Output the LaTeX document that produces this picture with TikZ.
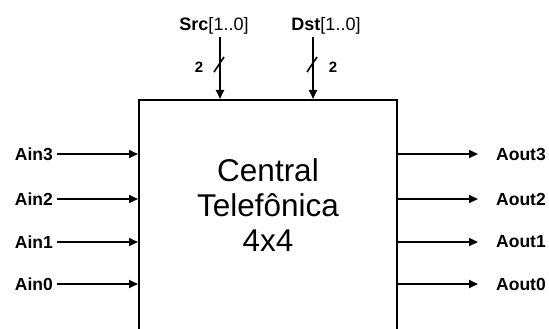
\documentclass[tikz,border=0pt]{standalone}
\usepackage{fontspec}
\setmainfont{Liberation Sans}
\usetikzlibrary{arrows.meta}

\begin{document}
\begin{tikzpicture}[x=1pt, y=-1pt,
  >={Triangle[length=9pt, width=8pt]},
  sig/.style={->, line width=2.2pt},
  lbl/.style={font=\fontsize{17.5}{20}\selectfont\bfseries, inner sep=0pt},
  bus/.style={font=\fontsize{18}{20}\selectfont\bfseries, inner sep=0pt}]
  \useasboundingbox (0,0) rectangle (549,329);
  \clip (0,0) rectangle (549,329);
  % ---------- central box ----------
  \node[draw, line width=2.2pt, anchor=north west, inner sep=0pt,
    minimum width=258pt, minimum height=280pt] (central) at (138,99) {};
  \node[font=\fontsize{31.5}{35}\selectfont, align=center] (title)
    at (268,205) {Central\\Telefônica\\4x4};
  % ---------- control inputs ----------
  \node[bus, anchor=base] (src) at (214,31) {Src\normalfont[1..0]};
  \node[bus, anchor=base] (dst) at (326,31) {Dst\normalfont[1..0]};
  \coordinate (srctop) at (220,37);
  \coordinate (dsttop) at (313,37);
  \draw[sig] (srctop) -- (srctop |- central.north);
  \draw[sig] (dsttop) -- (dsttop |- central.north);
  \draw[line width=1.6pt] (srctop) ++(-6,35) -- ++(10,-15);
  \draw[line width=1.6pt] (dsttop) ++(-6,35) -- ++(10,-15);
  \node[bus, font=\fontsize{15}{17}\selectfont\bfseries] (srcw) at (199,67) {2};
  \node[bus, font=\fontsize{15}{17}\selectfont\bfseries] (dstw) at (333,67) {2};
  % ---------- audio inputs ----------
  \node[lbl, anchor=east] (ain3) at (53,154) {Ain3};
  \node[lbl, anchor=east] (ain2) at (53,199) {Ain2};
  \node[lbl, anchor=east] (ain1) at (53,242) {Ain1};
  \node[lbl, anchor=east] (ain0) at (53,284) {Ain0};
  \foreach \n in {ain3, ain2, ain1, ain0}
    \draw[sig] ([xshift=4pt]\n.east) -- (\n -| central.west);
  % ---------- audio outputs ----------
  \node[lbl, anchor=west] (aout3) at (496,154) {Aout3};
  \node[lbl, anchor=west] (aout2) at (496,199) {Aout2};
  \node[lbl, anchor=west] (aout1) at (496,242) {Aout1};
  \node[lbl, anchor=west] (aout0) at (496,284) {Aout0};
  \foreach \n in {aout3, aout2, aout1, aout0}
    \draw[sig] (\n -| central.east) -- ([xshift=-18pt]\n.west);
\end{tikzpicture}
\end{document}
